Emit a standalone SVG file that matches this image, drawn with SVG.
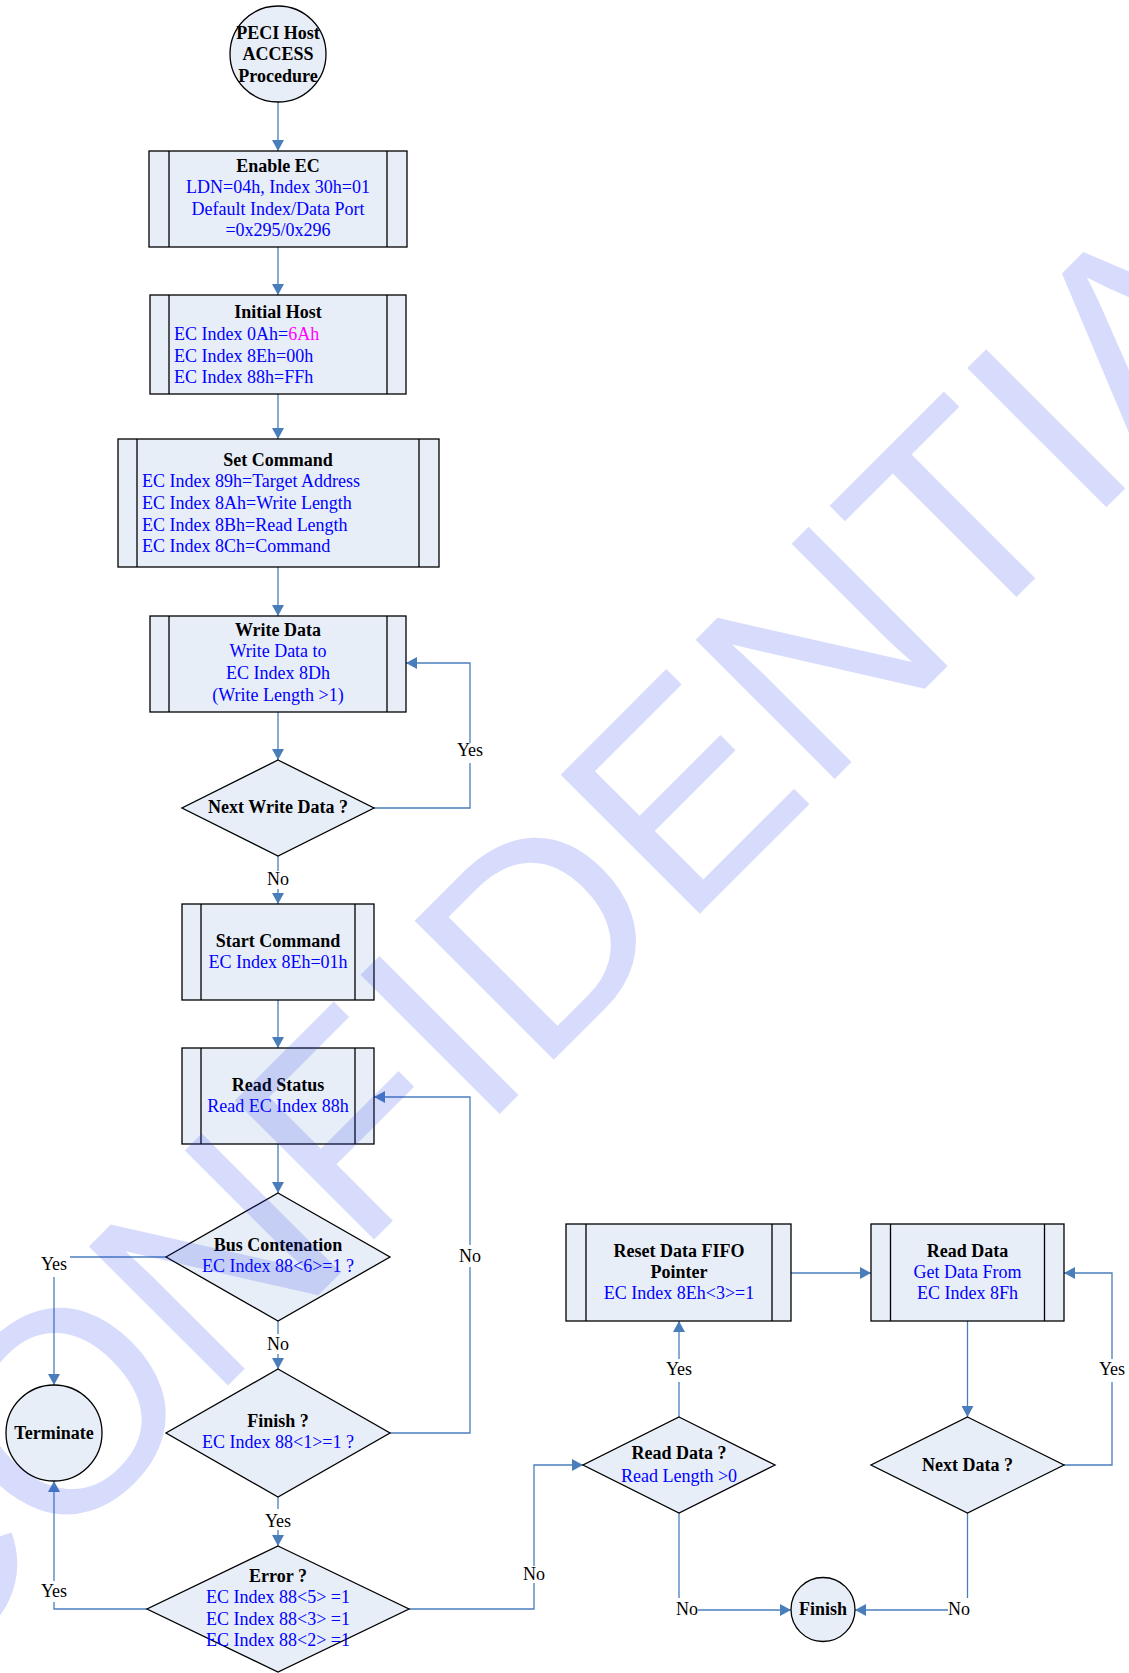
<svg xmlns="http://www.w3.org/2000/svg" width="1129" height="1673" viewBox="0 0 1129 1673">
<defs>
<style>
.box{fill:#E8EEF7;stroke:#000;stroke-width:1.3}
.bar{stroke:#000;stroke-width:1.3;fill:none}
.conn{fill:none;stroke:#4A7EBB;stroke-width:1.3}
.arr{marker-end:url(#ah)}
text{font-family:"Liberation Serif","Times New Roman",serif;font-size:18px}
.c{text-anchor:middle}
.b{font-weight:bold;fill:#000}
.u{fill:#0000FF}
.m{fill:#FF00FF}
.l{fill:#000}
.wm{font-family:"Liberation Sans",Arial,sans-serif;font-size:286px;fill:#283CF0;fill-opacity:0.18}
</style>
<marker id="ah" viewBox="0 0 11 12" refX="11" refY="6" markerWidth="11" markerHeight="12" markerUnits="userSpaceOnUse" orient="auto">
<path d="M0,0 L11,6 L0,12 z" fill="#4A7EBB"/>
</marker>
</defs>
<rect width="1129" height="1673" fill="#fff"/>

<g id="connectors">
<path class="conn arr" d="M278,102 V151"/>
<path class="conn arr" d="M278,247 V295"/>
<path class="conn arr" d="M278,394 V439"/>
<path class="conn arr" d="M278,567 V616"/>
<path class="conn arr" d="M278,712 V760"/>
<path class="conn" d="M374,808 H470 V763"/>
<path class="conn arr" d="M470,743 V663 H406"/>
<path class="conn" d="M278,856 V871"/>
<path class="conn arr" d="M278,889 V904"/>
<path class="conn arr" d="M278,1000 V1048"/>
<path class="conn arr" d="M278,1144 V1193"/>
<path class="conn" d="M166,1257 H70"/>
<path class="conn arr" d="M54,1277 V1385"/>
<path class="conn" d="M278,1321 V1334"/>
<path class="conn arr" d="M278,1354 V1369"/>
<path class="conn" d="M390,1433 H470 V1267"/>
<path class="conn arr" d="M470,1245 V1097 H374"/>
<path class="conn" d="M278,1497 V1509"/>
<path class="conn arr" d="M278,1530 V1546"/>
<path class="conn" d="M147,1609 H54 V1602"/>
<path class="conn arr" d="M54,1581 V1481"/>
<path class="conn" d="M409,1609 H534 V1583"/>
<path class="conn arr" d="M534,1566 V1465 H583"/>
<path class="conn" d="M679,1417 V1382"/>
<path class="conn arr" d="M679,1359 V1321"/>
<path class="conn" d="M679,1513 V1598"/>
<path class="conn arr" d="M698,1610 H791"/>
<path class="conn arr" d="M791,1273 H871"/>
<path class="conn arr" d="M967.5,1321 V1417"/>
<path class="conn" d="M1064,1465 H1112 V1382"/>
<path class="conn arr" d="M1112,1359 V1273 H1064"/>
<path class="conn" d="M967.5,1513 V1598"/>
<path class="conn arr" d="M948,1610 H855"/>
<text class="l c" x="470" y="756">Yes</text>
<text class="l c" x="278" y="885">No</text>
<text class="l c" x="54" y="1270">Yes</text>
<text class="l c" x="470" y="1262">No</text>
<text class="l c" x="278" y="1350">No</text>
<text class="l c" x="278" y="1527">Yes</text>
<text class="l c" x="54" y="1597">Yes</text>
<text class="l c" x="534" y="1580">No</text>
<text class="l c" x="679" y="1375">Yes</text>
<text class="l c" x="1112" y="1375">Yes</text>
<text class="l c" x="687" y="1615">No</text>
<text class="l c" x="959" y="1615">No</text>
</g>

<g id="start">
<circle class="box" cx="278" cy="54" r="48"/>
<text class="b c" x="278" y="38.5">PECI Host</text>
<text class="b c" x="278" y="60">ACCESS</text>
<text class="b c" x="278" y="81.5">Procedure</text>
</g>

<g id="enable-ec">
<rect class="box" x="149" y="151" width="258" height="96"/>
<path class="bar" d="M169,151 V247 M387,151 V247"/>
<text class="b c" x="278" y="171.7">Enable EC</text>
<text class="u c" x="278" y="193.3">LDN=04h, Index 30h=01</text>
<text class="u c" x="278" y="215">Default Index/Data Port</text>
<text class="u c" x="278" y="236.3">=0x295/0x296</text>
</g>

<g id="initial-host">
<rect class="box" x="150" y="295" width="256" height="99"/>
<path class="bar" d="M169,295 V394 M387,295 V394"/>
<text class="b c" x="278" y="317.7">Initial Host</text>
<text class="u" x="174" y="340">EC Index 0Ah=<tspan class="m">6Ah</tspan></text>
<text class="u" x="174" y="361.7">EC Index 8Eh=00h</text>
<text class="u" x="174" y="382.7">EC Index 88h=FFh</text>
</g>

<g id="set-command">
<rect class="box" x="118" y="439" width="321" height="128"/>
<path class="bar" d="M137,439 V567 M419,439 V567"/>
<text class="b c" x="278" y="465.7">Set Command</text>
<text class="u" x="142" y="486.7">EC Index 89h=Target Address</text>
<text class="u" x="142" y="508.7">EC Index 8Ah=Write Length</text>
<text class="u" x="142" y="530.7">EC Index 8Bh=Read Length</text>
<text class="u" x="142" y="551.7">EC Index 8Ch=Command</text>
</g>

<g id="write-data">
<rect class="box" x="150" y="616" width="256" height="96"/>
<path class="bar" d="M169,616 V712 M387,616 V712"/>
<text class="b c" x="278" y="636">Write Data</text>
<text class="u c" x="278" y="657.3">Write Data to</text>
<text class="u c" x="278" y="679.3">EC Index 8Dh</text>
<text class="u c" x="278" y="700.7">(Write Length &gt;1)</text>
</g>

<g id="next-write-data">
<path class="box" d="M278,760 L374,808 L278,856 L182,808 Z"/>
<text class="b c" x="278" y="813.3">Next Write Data ?</text>
</g>

<g id="start-command">
<rect class="box" x="182" y="904" width="192" height="96"/>
<path class="bar" d="M201,904 V1000 M355,904 V1000"/>
<text class="b c" x="278" y="946.7">Start Command</text>
<text class="u c" x="278" y="968.3">EC Index 8Eh=01h</text>
</g>

<g id="read-status">
<rect class="box" x="182" y="1048" width="192" height="96"/>
<path class="bar" d="M201,1048 V1144 M355,1048 V1144"/>
<text class="b c" x="278" y="1090.7">Read Status</text>
<text class="u c" x="278" y="1112.3">Read EC Index 88h</text>
</g>

<g id="bus-contention">
<path class="box" d="M278,1193 L390,1257 L278,1321 L166,1257 Z"/>
<text class="b c" x="278" y="1250.7">Bus Contenation</text>
<text class="u c" x="278" y="1272.3">EC Index 88&lt;6&gt;=1 ?</text>
</g>

<g id="finish-check">
<path class="box" d="M278,1369 L390,1433 L278,1497 L166,1433 Z"/>
<text class="b c" x="278" y="1427.3">Finish ?</text>
<text class="u c" x="278" y="1448.3">EC Index 88&lt;1&gt;=1 ?</text>
</g>

<g id="terminate">
<circle class="box" cx="54" cy="1433" r="48"/>
<text class="b c" x="54" y="1439.3">Terminate</text>
</g>

<g id="error-check">
<path class="box" d="M278,1546 L409,1609 L278,1672 L147,1609 Z"/>
<text class="b c" x="278" y="1581.7">Error ?</text>
<text class="u c" x="278" y="1603.3">EC Index 88&lt;5&gt; =1</text>
<text class="u c" x="278" y="1625">EC Index 88&lt;3&gt; =1</text>
<text class="u c" x="278" y="1646">EC Index 88&lt;2&gt; =1</text>
</g>

<g id="reset-fifo">
<rect class="box" x="566" y="1224" width="225" height="97"/>
<path class="bar" d="M586,1224 V1321 M772,1224 V1321"/>
<text class="b c" x="679" y="1256.7">Reset Data FIFO</text>
<text class="b c" x="679" y="1277.7">Pointer</text>
<text class="u c" x="679" y="1299.3">EC Index 8Eh&lt;3&gt;=1</text>
</g>

<g id="read-data">
<rect class="box" x="871" y="1224" width="193" height="97"/>
<path class="bar" d="M890.5,1224 V1321 M1044.5,1224 V1321"/>
<text class="b c" x="967.5" y="1256.7">Read Data</text>
<text class="u c" x="967.5" y="1277.7">Get Data From</text>
<text class="u c" x="967.5" y="1299.3">EC Index 8Fh</text>
</g>

<g id="read-data-check">
<path class="box" d="M679,1417 L775,1465 L679,1513 L583,1465 Z"/>
<text class="b c" x="679" y="1459.3">Read Data ?</text>
<text class="u c" x="679" y="1481.7">Read Length &gt;0</text>
</g>

<g id="next-data">
<path class="box" d="M967.5,1417 L1064,1465 L967.5,1513 L871,1465 Z"/>
<text class="b c" x="967.5" y="1470.7">Next Data ?</text>
</g>

<g id="finish">
<circle class="box" cx="823" cy="1609.5" r="32"/>
<text class="b c" x="823" y="1615">Finish</text>
</g>

<g id="watermark">
<text class="wm" transform="rotate(-45)" x="-1271" y="1141">CONFIDENTIAL</text>
</g>
</svg>
